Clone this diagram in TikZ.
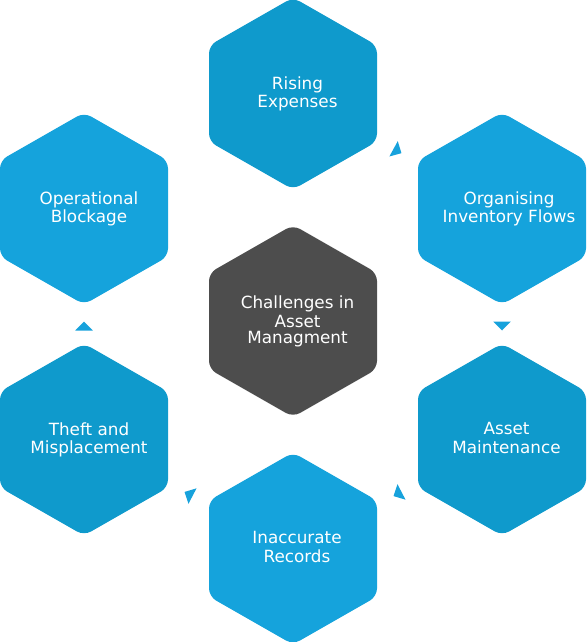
\documentclass[tikz,border=0pt]{standalone}
\usepackage{fontspec}
\setmainfont{DejaVu Sans}
\usetikzlibrary{calc}
\definecolor{hexdark}{HTML}{0F9ACC}
\definecolor{hexlight}{HTML}{15A3DC}
\definecolor{hexcore}{HTML}{4D4D4D}
\definecolor{arrowcol}{HTML}{17A2DC}
\tikzset{
  hexfill/.style={rounded corners=8pt},
  lbl/.style={text=white, align=center, inner sep=0pt,
              font=\fontsize{16.8}{16.6}\selectfont},
  tipfill/.style={fill=arrowcol},
}
% rounded pointy-top hexagon around a named coordinate
\newcommand{\hexshape}[2]{%
  \fill[#2, hexfill, shift={(#1)}] (42,-72) -- (84,-48) -- (84,48) -- (0,96)
    -- (-84,48) -- (-84,-48) -- (0,-96) -- cycle;}
% small triangular arrow head half way from one hexagon to the next
\newcommand{\flowtip}[3]{%
  \coordinate (tm) at ($($(#1)!0.5!(#2)$)+(#3)$);
  \coordinate (tb) at ($(tm)!-4.5pt!(#2)$);
  \fill[tipfill] ($(tm)!4.5pt!(#2)$) -- ($(tb)!8.75pt!90:(#2)$)
    -- ($(tb)!8.75pt!-90:(#2)$) -- cycle;}
\begin{document}
\begin{tikzpicture}[x=1pt,y=-1pt]
\useasboundingbox (0,0) rectangle (586,642);
% hexagon centres
\coordinate (rise) at (293,93.5);
\coordinate (org)  at (502,208.5);
\coordinate (oper) at (84,208.5);
\coordinate (core) at (293,321);
\coordinate (maint) at (502,439.5);
\coordinate (theft) at (84,439.5);
\coordinate (rec)  at (293,548.5);
% hexagons
\hexshape{rise}{hexdark}
\hexshape{org}{hexlight}
\hexshape{oper}{hexlight}
\hexshape{core}{hexcore}
\hexshape{maint}{hexdark}
\hexshape{theft}{hexdark}
\hexshape{rec}{hexlight}
% labels
\node[lbl] (riseT)  at ($(rise)+(4.5,1)$)  {\strut Rising\\Expenses\strut};
\node[lbl] (orgT)   at ($(org)+(7,1)$)     {\strut Organising\\Inventory Flows\strut};
\node[lbl] (operT)  at ($(oper)+(5,1)$)    {\strut Operational\\Blockage\strut};
\node[lbl] (coreT)  at ($(core)+(4.5,1.3)$) {\strut Challenges in\\Asset\\Managment\strut};
\node[lbl] (maintT) at ($(maint)+(4.5,1)$) {\strut Asset\\Maintenance\strut};
\node[lbl] (theftT) at ($(theft)+(5,1)$)   {\strut Theft and\\Misplacement\strut};
\node[lbl] (recT)   at ($(rec)+(4,1)$)     {\strut Inaccurate\\Records\strut};
% flow arrow heads (clockwise)
\flowtip{rise}{org}{0,0}
\flowtip{org}{maint}{0,2}
\flowtip{maint}{rec}{0,0}
\flowtip{rec}{theft}{0,0}
\flowtip{theft}{oper}{0,2}
\end{tikzpicture}
\end{document}
